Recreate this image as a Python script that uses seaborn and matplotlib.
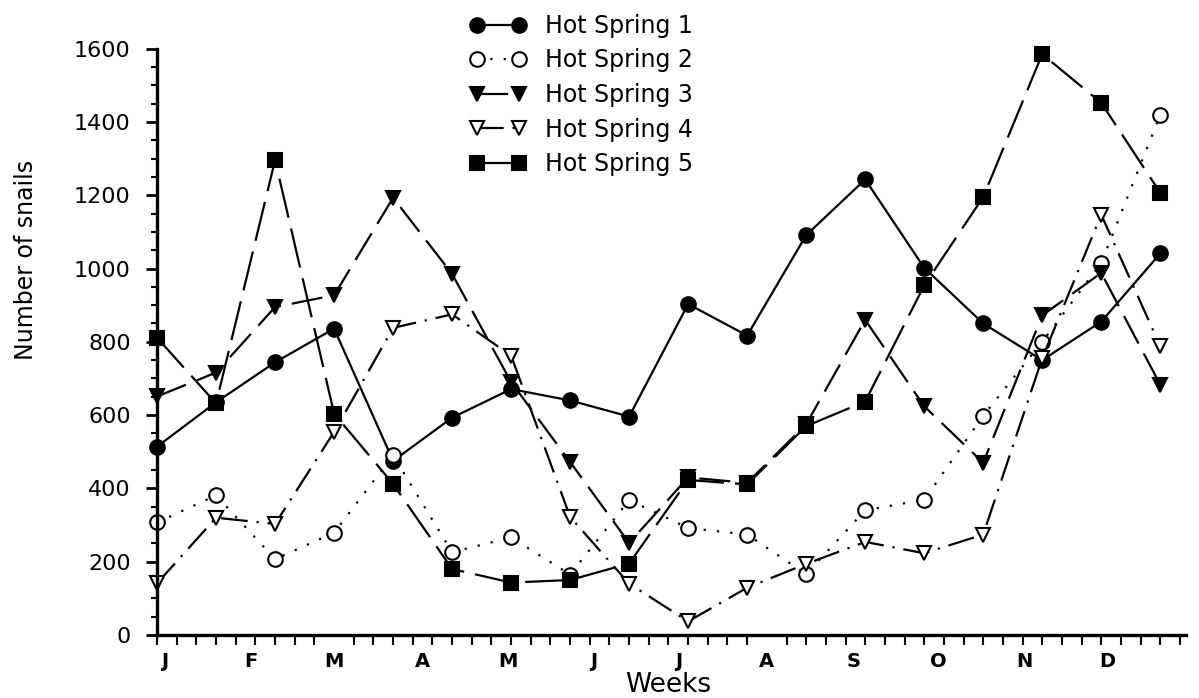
import matplotlib
matplotlib.use('Agg')
import matplotlib.pyplot as plt
from matplotlib.ticker import MultipleLocator
import seaborn as sns

# sampling every 3 weeks
weeks = [0, 3, 6, 9, 12, 15, 18, 21, 24, 27, 30, 33, 36, 39, 42, 45, 48, 51]
months = ['J', 'F', 'M', 'A', 'M', 'J', 'J', 'A', 'S', 'O', 'N', 'D']
month_weeks = [0.4, 4.75, 9.0, 13.5, 17.85, 22.2, 26.5, 31.0, 35.4, 39.7, 44.1, 48.3]

hot_spring_1 = [514, 635, 744, 836, 475, 593, 671, 640, 596, 903, 817, 1091, 1243, 1002, 850, 750, 855, 1041]
hot_spring_2 = [307, 381, 207, 279, 490, 226, 266, 165, 368, 292, 274, 166, 340, 369, 598, 800, 1015, 1419]
hot_spring_3 = [651, 716, 895, 927, 1193, 985, 690, 472, 251, 430, 415, 575, 860, 624, 470, 872, 988, 683]
hot_spring_4 = [141, 320, 303, 554, 838, 875, 762, 322, 140, 37, 129, 194, 254, 223, 274, 755, 1147, 788]
hot_spring_5 = [811, 632, 1296, 604, 412, 180, 143, 150, 195, 423, 411, 570, 637, 954, 1195, 1585, 1452, 1207]

series = [
    ('Hot Spring 1', hot_spring_1, 'o', 'black', '-', 10.5),
    ('Hot Spring 2', hot_spring_2, 'o', 'white', (0, (1, 5)), 10.5),
    ('Hot Spring 3', hot_spring_3, 'v', 'black', (0, (14, 5)), 10.5),
    ('Hot Spring 4', hot_spring_4, 'v', 'white', (0, (12, 4, 1, 4)), 10.5),
    ('Hot Spring 5', hot_spring_5, 's', 'black', (0, (18, 5)), 9.5),
]

sns.set_style('ticks', {'axes.edgecolor': 'black', 'text.color': 'black',
                        'axes.labelcolor': 'black', 'xtick.color': 'black',
                        'ytick.color': 'black'})
plt.rcParams['font.family'] = ['DejaVu Sans']

fig = plt.figure(figsize=(11.99, 6.98), dpi=100)
ax = fig.add_axes([0.131, 0.0903, 0.858, 0.84])

for name, vals, mk, face, ls, ms in series:
    sns.lineplot(x=weeks, y=vals, ax=ax, color='black', linewidth=1.6,
                 linestyle=ls, marker=mk, markersize=ms,
                 markerfacecolor=face, markeredgecolor='black',
                 markeredgewidth=1.5, label=name, clip_on=False)

ax.set_xlim(0, 52.3)
ax.set_ylim(0, 1600)
sns.despine(ax=ax)
for side in ['left', 'bottom']:
    ax.spines[side].set_linewidth(2.4)

ax.yaxis.set_major_locator(MultipleLocator(200))
ax.yaxis.set_minor_locator(MultipleLocator(50))
ax.tick_params(axis='y', which='major', length=8, width=2, pad=11, labelsize=16)
ax.tick_params(axis='y', which='minor', length=4, width=1.5)

ax.set_xticks(month_weeks)
ax.set_xticklabels(months, fontsize=14, fontweight='bold')
ax.set_xticks(range(0, 53), minor=True)
ax.tick_params(axis='x', which='major', length=0, pad=12)
ax.tick_params(axis='x', which='minor', length=7, width=1.5)

ax.set_xlabel('Weeks', fontsize=19)
ax.xaxis.set_label_coords(0.497, -0.064)
ax.set_ylabel('Number of snails', fontsize=17)
ax.yaxis.set_label_coords(-0.116, 0.64)

ax.legend(loc='upper left', bbox_to_anchor=(458 / 1199, 1 - 2 / 698),
          bbox_transform=fig.transFigure, frameon=False, fontsize=17,
          handlelength=2.4, handletextpad=0.8, labelspacing=0.45,
          borderpad=0, numpoints=2)

plt.savefig('out.png', dpi=100)
